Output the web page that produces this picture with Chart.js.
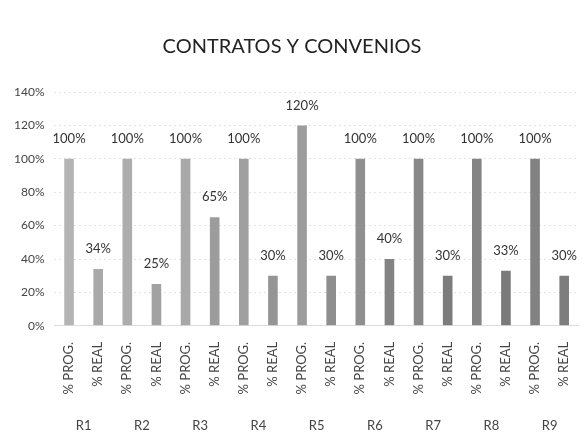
<!DOCTYPE html>
<html>
<head>
<meta charset="utf-8">
<script src="https://cdn.jsdelivr.net/npm/chart.js@4"></script>
<style>
  html,body{margin:0;padding:0;background:#fff;}
  #wrap{width:588px;height:442px;position:relative;}
</style>
</head>
<body>
<div id="wrap"><canvas id="grafico"></canvas></div>
<script>
// ---------------- Datos ----------------
const etiquetas = ["% PROG.","% REAL","% PROG.","% REAL","% PROG.","% REAL","% PROG.","% REAL","% PROG.","% REAL",
                   "% PROG.","% REAL","% PROG.","% REAL","% PROG.","% REAL","% PROG.","% REAL"];
const regiones = ["R1","R2","R3","R4","R5","R6","R7","R8","R9"];
const valores = [100,34, 100,25, 100,65, 100,30, 120,30, 100,40, 100,30, 100,33, 100,30];
const marcasY = [0,20,40,60,80,100,120,140];

// tonos del escaneo (mas claros a la izquierda)
const colores = ["#b4b4b4","#a9a9a9","#adadad","#a2a2a2","#a8a8a8","#9c9c9c","#a0a0a0","#959595","#9c9c9c",
                 "#8e8e8e","#909090","#838383","#888888","#7c7c7c","#848484","#7a7a7a","#828282","#7d7d7d"];

const fuente = "Lato, 'Open Sans', sans-serif";

// etiquetas encima de las barras
const etiquetasBarras = {
  id:"etiquetasBarras",
  afterDatasetsDraw(chart){
    const ctx = chart.ctx;
    const meta = chart.getDatasetMeta(0);
    ctx.save();
    ctx.fillStyle = "#333";
    ctx.font = "13px " + fuente;
    ctx.textAlign = "center";
    ctx.textBaseline = "middle";
    meta.data.forEach((bar,i)=>{
      ctx.fillText(valores[i]+"%", bar.x, bar.y - 20);
    });
    ctx.restore();
  }
};

new Chart(document.getElementById("grafico"),{
  type:"bar",
  data:{
    labels:etiquetas,
    datasets:[{data:valores, backgroundColor:colores, barPercentage:0.33, categoryPercentage:1, xAxisID:"x", yAxisID:"y"}]
  },
  options:{
    responsive:true,
    maintainAspectRatio:false,
    animation:false,
    layout:{padding:{left:4,right:8,top:0,bottom:0}},
    plugins:{
      legend:{display:false},
      tooltip:{enabled:false},
      title:{display:true, text:"CONTRATOS Y CONVENIOS", color:"#222",
             font:{family:fuente, size:20, weight:"normal"}, padding:{top:35,bottom:33}}
    },
    scales:{
      y:{
        min:0, max:140,
        afterBuildTicks(axis){ axis.ticks = marcasY.map(v=>({value:v})); },
        ticks:{color:"#444", font:{family:fuente, size:12}, padding:10, callback:v=>v+"%"},
        grid:{color:"#e2e2e2", borderDash:[2,3], drawTicks:false},
        border:{display:false, dash:[2,3]}
      },
      x:{
        ticks:{color:"#444", font:{family:fuente, size:13}, minRotation:90, maxRotation:90, padding:8, autoSkip:false},
        grid:{display:false},
        border:{color:"#ddd", dash:[2,3]}
      },
      x2:{
        type:"category",
        labels:regiones,
        position:"bottom",
        offset:true,
        ticks:{color:"#444", font:{family:fuente, size:13}, padding:8},
        grid:{display:false},
        border:{display:false}
      }
    }
  },
  plugins:[etiquetasBarras]
});
</script>
</body>
</html>
